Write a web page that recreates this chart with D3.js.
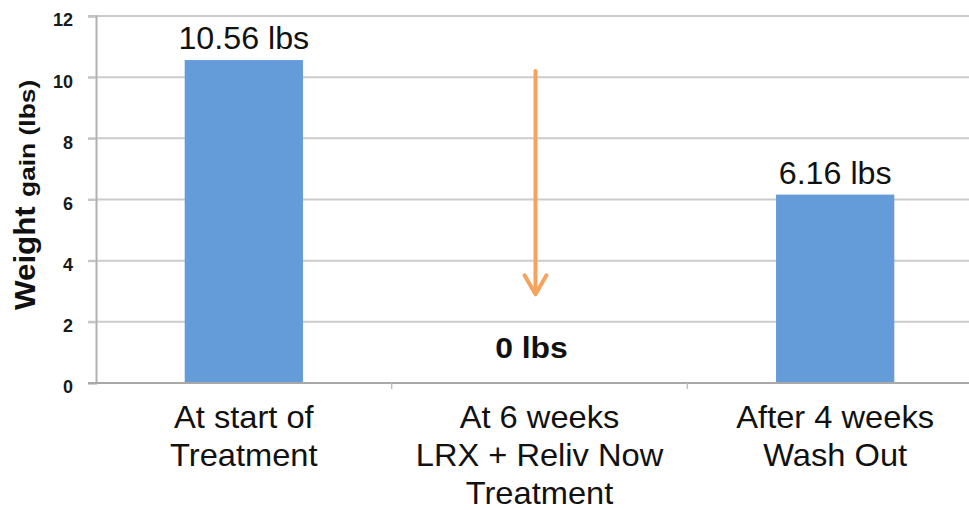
<!DOCTYPE html>
<html>
<head>
<meta charset="utf-8">
<script src="https://cdn.jsdelivr.net/npm/d3@7"></script>
<style>
  html, body { margin: 0; padding: 0; background: #fff; }
  svg { display: block; font-family: "Liberation Sans", Arial, sans-serif; }
</style>
</head>
<body>
<svg id="chart" width="969" height="510"></svg>
<script>
// ---- data ----
const categories = [
  ["At start of", "Treatment"],
  ["At 6 weeks", "LRX + Reliv Now", "Treatment"],
  ["After 4 weeks", "Wash Out"]
];
const values = [10.56, 0, 6.16];
const valueLabels = ["10.56 lbs", "0 lbs", "6.16 lbs"];
const yTicks = [0, 2, 4, 6, 8, 10, 12];
const arrowFrom = 10.2;   // arrow annotation (value units)
const arrowTo = 2.9;

// ---- layout ----
const svg = d3.select("#chart");
const mLeft = 96, mRight = 983, mTop = 16, mBottom = 383;

const y = d3.scaleLinear().domain([0, 12]).range([mBottom, mTop]);
const x = d3.scaleBand().domain(d3.range(categories.length)).range([mLeft, mRight]).padding(0);
const barW = x.bandwidth() * 0.4;

// gridlines
svg.append("g").selectAll("line").data(yTicks.filter(d => d > 0)).join("line")
  .attr("x1", mLeft - 8).attr("x2", mRight)
  .attr("y1", d => y(d)).attr("y2", d => y(d))
  .attr("stroke", "#cbcbcb").attr("stroke-width", 2);

// y axis
const yAxis = svg.append("g").attr("transform", `translate(${mLeft},0)`)
  .call(d3.axisLeft(y).tickValues(yTicks).tickSize(8).tickPadding(15).tickFormat(d3.format("d")));
yAxis.select(".domain").attr("stroke", "#b0b0b0").attr("stroke-width", 2);
yAxis.selectAll(".tick line").attr("stroke", "#c4c4c4").attr("stroke-width", 2);
yAxis.selectAll(".tick text").attr("fill", "#1a1a1a").attr("font-size", 18).attr("font-weight", "bold")
  .attr("dy", "0.55em")
  .attr("font-family", "Liberation Sans, Arial, sans-serif");

// bars
svg.append("g").selectAll("rect").data(values).join("rect")
  .attr("x", (d, i) => x(i) + x.bandwidth() / 2 - barW / 2)
  .attr("width", barW)
  .attr("y", d => y(d))
  .attr("height", d => y(0) - y(d))
  .attr("fill", "#649bd9");

// x axis
const xAxisG = svg.append("g").attr("transform", `translate(0,${mBottom})`);
xAxisG.append("line").attr("x1", mLeft - 8).attr("x2", mRight).attr("y1", 0).attr("y2", 0)
  .attr("stroke", "#a8a8a8").attr("stroke-width", 2);
xAxisG.selectAll("line.tk").data(d3.range(1, categories.length)).join("line").attr("class", "tk")
  .attr("x1", i => x(i)).attr("x2", i => x(i)).attr("y1", 0).attr("y2", 6)
  .attr("stroke", "#c0c0c0").attr("stroke-width", 1.5);

// helper for slightly widened text
function wideText(g, tx, ty, str, size, weight, sx) {
  return g.append("text")
    .attr("transform", `translate(${tx},${ty}) scale(${sx},1)`)
    .attr("text-anchor", "middle")
    .attr("font-size", size)
    .attr("font-weight", weight || "normal")
    .attr("fill", "#111")
    .text(str);
}

// category labels
const catG = svg.append("g");
categories.forEach((lines, i) => {
  const cx = x(i) + x.bandwidth() / 2;
  lines.forEach((ln, j) => {
    wideText(catG, cx, 428 + j * 38, ln, 32, "normal", 1.02);
  });
});

// value labels
const labG = svg.append("g");
values.forEach((v, i) => {
  const cx = x(i) + x.bandwidth() / 2;
  if (v === 0) {
    wideText(labG, cx - 8, y(v) - 25, valueLabels[i], 29, "bold", 1.1);
  } else {
    wideText(labG, cx, y(v) - 11, valueLabels[i], 31, "normal", 1.04);
  }
});

// arrow annotation on the zero category
const ax = x(1) + x.bandwidth() / 2 - 4;
svg.append("line").attr("x1", ax).attr("x2", ax)
  .attr("y1", y(arrowFrom)).attr("y2", y(arrowTo) - 4)
  .attr("stroke", "#f4a45c").attr("stroke-width", 4).attr("stroke-linecap", "round");
svg.append("path")
  .attr("d", `M${ax - 11},${y(arrowTo) - 19} L${ax},${y(arrowTo)} L${ax + 11},${y(arrowTo) - 19}`)
  .attr("fill", "none").attr("stroke", "#f4a45c").attr("stroke-width", 4)
  .attr("stroke-linecap", "round").attr("stroke-linejoin", "round");

// y-axis title (two parts, different sizes)
svg.append("text")
  .attr("transform", `translate(35,310) rotate(-90) scale(1.08,1)`)
  .attr("text-anchor", "start").attr("fill", "#111").attr("font-weight", "bold")
  .attr("font-size", 29).text("Weight");
svg.append("text")
  .attr("transform", `translate(35,197) rotate(-90) scale(1.2,1)`)
  .attr("text-anchor", "start").attr("fill", "#111").attr("font-weight", "bold")
  .attr("font-size", 22).text("gain (lbs)");
</script>
</body>
</html>
